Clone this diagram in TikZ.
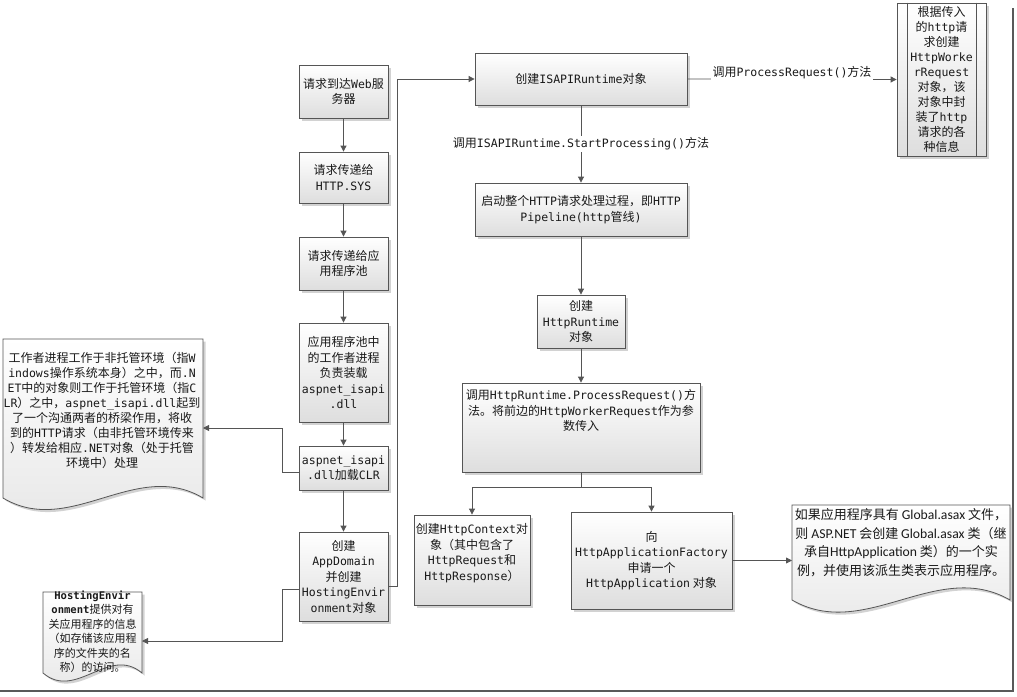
\documentclass[tikz,border=0pt]{standalone}
\usepackage{fontspec}
\setmainfont{Noto Sans CJK SC}
\newfontfamily\monofam[Scale=0.96]{DejaVu Sans Mono}
\newfontfamily\calib[Scale=1.05]{Carlito}
\newcommand\monot[1]{{\monofam #1}}
\newcommand\monob[1]{{\monofam\bfseries\fontsize{11}{14.5}\selectfont #1}}
\newcommand\latn[1]{{\calib #1}}
\usetikzlibrary{arrows.meta,shadows}
\definecolor{lc}{HTML}{555555}
\begin{document}
\begin{tikzpicture}[x=1pt,y=-1pt,
  shad/.style={drop shadow={shadow xshift=2.5pt,shadow yshift=-2.5pt,opacity=0.35}},
  flowbox/.style={draw=lc, line width=0.8pt, top color=white, bottom color=black!13, shad,
    inner sep=0pt, align=center, font=\fontsize{12}{15.5}\selectfont, text=black!90},
  docshape/.style={draw=lc, line width=0.8pt, top color=white, bottom color=black!10, shad},
  txt/.style={inner sep=0pt, align=center, text=black!90},
  conn/.style={draw=lc, line width=0.8pt},
  arr/.style={conn, -{Triangle[length=6pt,width=6pt]}},
  elabel/.style={fill=white, inner sep=1.5pt, font=\fontsize{12}{15}\selectfont, text=black!90}]
\useasboundingbox (0,0) rectangle (1017,696);
\fill[white] (0,0) rectangle (1017,696);

% frame shadow lines
\draw[line width=2.2pt, black!65] (1013,8) -- (1013,691) -- (0,691);

% left column
\node[flowbox, minimum width=89pt, minimum height=53pt] (b1) at (343.5,91.5) {请求到达\monot{Web}服\\务器};
\node[flowbox, minimum width=89pt, minimum height=51pt] (b2) at (343.5,177.5) {请求传递给\\\monot{HTTP.SYS}};
\node[flowbox, minimum width=89pt, minimum height=53pt] (b3) at (343.5,263.5) {请求传递给应\\用程序池};
\node[flowbox, minimum width=89pt, minimum height=99pt] (b4) at (343.5,372.5) {应用程序池中\\的工作者进程\\负责装载\\\monot{aspnet\_isapi}\\\monot{.dll}};
\node[flowbox, minimum width=89pt, minimum height=44pt] (b5) at (343.5,468) {\monot{aspnet\_isapi}\\\monot{.dll}加载\monot{CLR}};
\node[flowbox, minimum width=89pt, minimum height=89pt] (b6) at (343.5,576.5) {创建\\\monot{AppDomain}\\并创建\\\monot{HostingEnvir}\\\monot{onment}对象};

\draw[arr] (b1) -- (b2);
\draw[arr] (b2) -- (b3);
\draw[arr] (b3) -- (b4);
\draw[arr] (b4) -- (b5);
\draw[arr] (b5) -- (b6);

% centre column
\node[flowbox, minimum width=212pt, minimum height=52pt] (isapi) at (581,79) {创建\monot{ISAPIRuntime}对象};
\node[flowbox, minimum width=212pt, minimum height=53pt] (pipe) at (581,209.5) {启动整个\monot{HTTP}请求处理过程，即\monot{HTTP}\\\monot{Pipeline(http}管线\monot{)}};
\node[flowbox, minimum width=88pt, minimum height=53pt] (hrt) at (581,321.5) {创建\\\monot{HttpRuntime}\\对象};
\node[flowbox, minimum width=238pt, minimum height=89pt] (pr) at (581,427.5) {};
\node[txt, anchor=north, yshift=-7pt, font=\fontsize{12}{15.5}\selectfont] (prtext) at (pr.north) {调用\monot{HttpRuntime.ProcessRequest()}方\\法。将前边的\monot{HttpWorkerRequest}作为参\\数传入};
\node[flowbox, minimum width=116pt, minimum height=90pt] (ctx) at (472,560) {};
\node[txt, anchor=north, yshift=-9pt, font=\fontsize{12}{15.5}\selectfont] (ctxtext) at (ctx.north) {创建\monot{HttpContext}对\\象（其中包含了\\\monot{HttpRequest}和\\\monot{HttpResponse}）};
\node[flowbox, minimum width=161pt, minimum height=97pt] (app) at (651.5,560.5) {向\\\monot{HttpApplicationFactory}\\申请一个\\\monot{HttpApplication} 对象};

% subprocess top right
\node[flowbox, minimum width=89pt, minimum height=153pt, font=\fontsize{12}{15}\selectfont] (wr) at (941.5,79.5) {根据传入\\的\monot{http}请\\求创建\\\monot{HttpWorke}\\\monot{rRequest}\\对象，该\\对象中封\\装了\monot{http}\\请求的各\\种信息};
\draw[conn] ([xshift=11pt]wr.north west) -- ([xshift=11pt]wr.south west);
\draw[conn] ([xshift=-10pt]wr.north east) -- ([xshift=-10pt]wr.south east);

\draw[arr] (isapi.east) -- node[elabel, yshift=7pt] {调用\monot{ProcessRequest()}方法} (wr.west);
\draw[arr] (isapi.south) -- node[elabel] {调用\monot{ISAPIRuntime.StartProcessing()}方法} (pipe.north);
\draw[arr] (pipe) -- (hrt);
\draw[arr] (hrt) -- (pr);
\draw[conn] (pr.south) -- ++(0,15) coordinate (br);
\draw[arr] (br) -| (ctx.north);
\draw[arr] (br) -| (app.north);

% document shapes
\path[docshape] (3,339) -- (203,339) -- (203,498) .. controls (136,458) and (70,538) .. (3,498) -- cycle;
\node[txt, font=\fontsize{12}{15}\selectfont] (ldoc) at (102,410.5) {工作者进程工作于非托管环境（指\monot{W}\\\monot{indows}操作系统本身）之中，而\monot{.N}\\\monot{ET}中的对象则工作于托管环境（指\monot{C}\\\monot{LR}）之中，\monot{aspnet\_isapi.dll}起到\\了一个沟通两者的桥梁作用，将收\\到的\monot{HTTP}请求（由非托管环境传来\\）转发给相应\monot{.NET}对象（处于托管\\环境中）处理};
\coordinate (ldocin) at (203,428);

\path[docshape] (43,592) -- (142,592) -- (142,673) .. controls (109,645) and (76,701) .. (43,673) -- cycle;
\node[txt, font=\fontsize{11}{14.5}\selectfont] (hdoc) at (92.5,631.5) {\monob{HostingEnvir}\\\monob{onment}提供对有\\关应用程序的信息\\（如存储该应用程\\序的文件夹的名\\称）的访问。};
\coordinate (hdocin) at (142,641);

\path[docshape] (792,505) -- (1010,505) -- (1010,600) .. controls (937,558) and (865,642) .. (792,600) -- cycle;
\node[txt, font=\fontsize{13}{18.5}\selectfont] (rdoc) at (901,542.5) {如果应用程序具有 \latn{Global.asax} 文件，\\则 \latn{ASP.NET} 会创建 \latn{Global.asax} 类（继\\承自\latn{HttpApplication} 类）的一个实\\例，并使用该派生类表示应用程序。};
\coordinate (rdocin) at (792,560);

% cross connectors
\draw[arr] ([yshift=-4pt]b5.west) -- ++(-16,0) |- (ldocin);
\draw[arr] ([yshift=-13pt]b6.west) -- ++(-16,0) |- (hdocin);
\draw[arr] ([yshift=-10pt]b6.east) -- ++(9,0) |- (isapi.west);
\draw[arr] (app.east) -- (app.east -| rdocin);
\end{tikzpicture}
\end{document}
